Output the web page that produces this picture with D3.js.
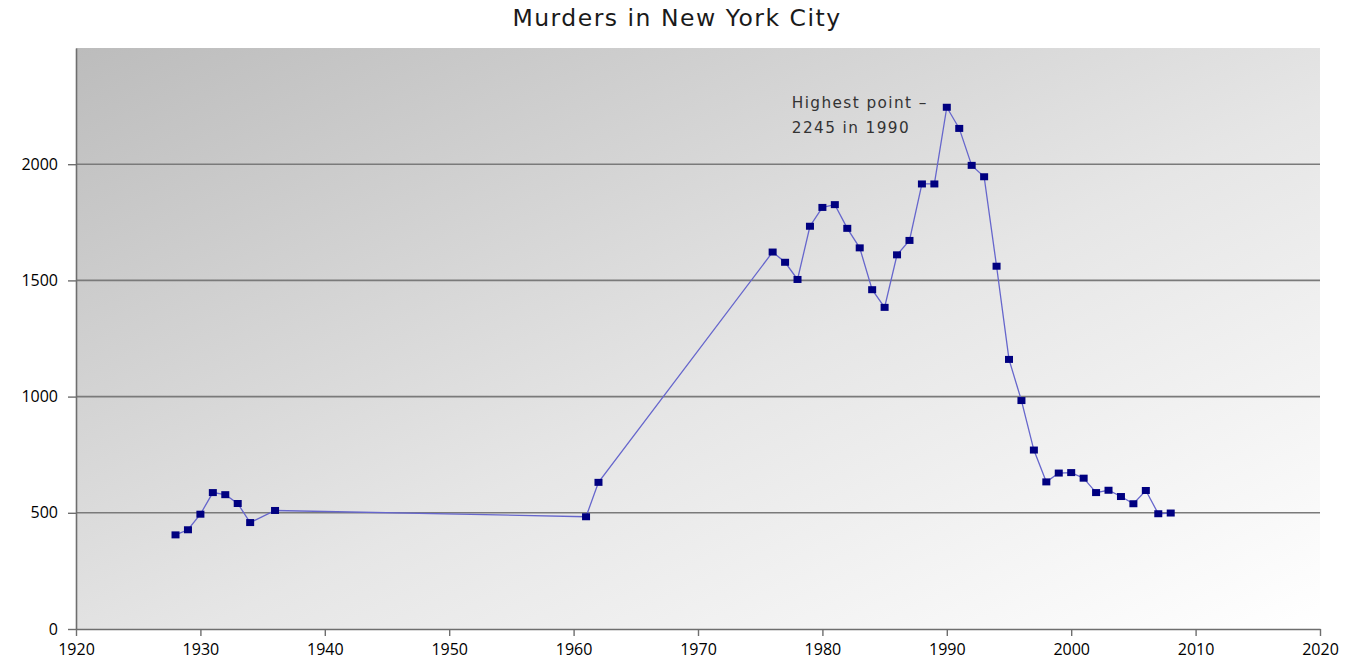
<!DOCTYPE html>
<html>
<head>
<meta charset="utf-8">
<script src="https://cdn.jsdelivr.net/npm/d3@7"></script>
<style>
  html, body { margin: 0; padding: 0; background: #fff; }
  svg { display: block; }
</style>
</head>
<body>
<svg id="chart" width="1356" height="669"></svg>
<script>
const chartTitle = "Murders in New York City";
const years = [1928,1929,1930,1931,1932,1933,1934,1936,1961,1962,
  1976,1977,1978,1979,1980,1981,1982,1983,1984,1985,1986,1987,1988,1989,
  1990,1991,1992,1993,1994,1995,1996,1997,1998,1999,2000,2001,2002,2003,
  2004,2005,2006,2007,2008];
const murders = [405,427,494,587,578,540,458,510,483,631,
  1622,1578,1504,1733,1814,1826,1724,1640,1460,1384,1610,1672,1915,1915,
  2245,2154,1995,1946,1561,1160,983,770,633,671,673,649,587,597,
  570,539,596,496,499];
const xTicks = [1920,1930,1940,1950,1960,1970,1980,1990,2000,2010,2020];
const yTicks = [0,500,1000,1500,2000];
const annotationLines = ["Highest point \u2013", "2245 in 1990"];
const annotationYear = 1990;
const annotationValue = 2245;

const svg = d3.select("#chart");
const margin = {left: 76, right: 36, top: 48, bottom: 40};
const W = 1356, H = 669;
const x = d3.scaleLinear().domain([1920, 2020]).range([margin.left, W - margin.right]);
const y = d3.scaleLinear().domain([0, 2500]).range([H - margin.bottom, margin.top]);

const defs = svg.append("defs");
const grad = defs.append("linearGradient").attr("id", "bg")
  .attr("x1", 0).attr("y1", 0).attr("x2", 1).attr("y2", 1);
grad.append("stop").attr("offset", "0%").attr("stop-color", "#bcbcbc");
grad.append("stop").attr("offset", "55%").attr("stop-color", "#e6e6e6");
grad.append("stop").attr("offset", "100%").attr("stop-color", "#ffffff");

svg.append("rect")
  .attr("x", x(1920)).attr("y", y(2500))
  .attr("width", x(2020) - x(1920)).attr("height", y(0) - y(2500))
  .attr("fill", "url(#bg)");

// title
svg.append("text")
  .attr("x", 677).attr("y", 26)
  .attr("text-anchor", "middle")
  .style("font-family", "\"DejaVu Sans\", sans-serif")
  .style("font-size", "23.5px")
  .style("letter-spacing", "1.5px")
  .attr("fill", "#1a1a1a")
  .text(chartTitle);

// gridlines
svg.append("g").selectAll("line")
  .data(yTicks.filter(d => d > 0))
  .join("line")
  .attr("x1", x(1920)).attr("x2", x(2020))
  .attr("y1", d => y(d)).attr("y2", d => y(d))
  .attr("stroke", "#7a7a7a").attr("stroke-width", 1.6);

// axes
const xAxis = d3.axisBottom(x).tickValues(xTicks).tickFormat(d3.format("d"))
  .tickSizeInner(7).tickSizeOuter(0).tickPadding(8);
const gx = svg.append("g").attr("transform", `translate(0,${y(0)})`).call(xAxis);
gx.select(".domain").attr("stroke", "#6e6e6e").attr("stroke-width", 1.6);
gx.selectAll(".tick line").attr("stroke", "#6e6e6e").attr("stroke-width", 1.4);
gx.selectAll(".tick text").attr("fill", "#000")
  .style("font-family", "\"Open Sans\", sans-serif").style("font-size", "16px")
  .style("font-weight", "500");

const yAxis = d3.axisLeft(y).tickValues(yTicks).tickFormat(d3.format("d"))
  .tickSizeInner(8).tickSizeOuter(0).tickPadding(10);
const gy = svg.append("g").attr("transform", `translate(${x(1920)},0)`).call(yAxis);
gy.select(".domain").attr("stroke", "#6e6e6e").attr("stroke-width", 1.6);
gy.selectAll(".tick line").attr("stroke", "#6e6e6e").attr("stroke-width", 1.4);
gy.selectAll(".tick text").attr("fill", "#000")
  .style("font-family", "\"Open Sans\", sans-serif").style("font-size", "16px")
  .style("font-weight", "500");

// series
const data = years.map((yr, i) => ({year: yr, value: murders[i]}));
svg.append("path")
  .datum(data)
  .attr("fill", "none")
  .attr("stroke", "#6666cc")
  .attr("stroke-width", 1.3)
  .attr("d", d3.line().x(d => x(d.year)).y(d => y(d.value)));

const ms = 8;
svg.append("g").selectAll("rect")
  .data(data)
  .join("rect")
  .attr("x", d => x(d.year) - ms / 2)
  .attr("y", d => y(d.value) - ms / 2 + 0.5)
  .attr("width", ms).attr("height", ms - 1)
  .attr("fill", "#000080");

// annotation
const ann = svg.append("text")
  .attr("x", x(annotationYear) - 155)
  .attr("y", y(annotationValue) + 1)
  .style("font-family", "\"DejaVu Sans\", sans-serif")
  .style("font-size", "15.3px")
  .style("letter-spacing", "1.4px")
  .attr("fill", "#333");
annotationLines.forEach((t, i) => {
  ann.append("tspan").attr("x", x(annotationYear) - 155)
    .attr("dy", i === 0 ? 0 : 25).text(t);
});
</script>
</body>
</html>
